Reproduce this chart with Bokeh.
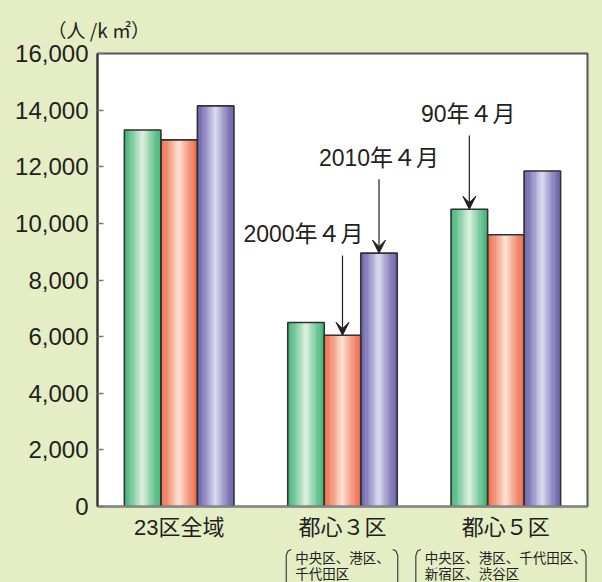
import numpy as np
from bokeh.plotting import figure
from bokeh.layouts import column
from bokeh.models import (Range1d, FixedTicker, NumeralTickFormatter, Label, Arrow, VeeHead)
from bokeh.core.properties import value
from bokeh.embed import file_html
from bokeh.resources import INLINE

# ---------------- data ----------------
categories = ["23区全域", "都心３区", "都心５区"]
notes = ["", "中央区、港区、\n千代田区", "中央区、港区、千代田区、\n新宿区、渋谷区"]
series_names = ["90年４月", "2000年４月", "2010年４月"]
v1990 = [13300, 6500, 10500]
v2000 = [12950, 6050, 9600]
v2010 = [14150, 8950, 11850]
y_ticks = [0, 2000, 4000, 6000, 8000, 10000, 12000, 14000, 16000]
unit_label = "（人 /k ㎡）"
# annotation: which series / which group the arrow points at
ann_series = [0, 1, 2]
ann_group = [2, 1, 1]

series_values = [v1990, v2000, v2010]

# ---------------- styles ----------------
BG = "#e5edc4"
EDGE = ["#42b578", "#ef6e4d", "#6a61a9"]
CENTER = ["#e2f2e2", "#ffe4d6", "#dedcf2"]
TXT = "#231f20"
JP = "Noto Sans CJK JP"
MIXF = "Liberation Sans, Noto Sans CJK JP"

W, H1, H2 = 602, 542, 40
ML, MR, MT, MB = 97, 15, 53, 35
FW, FH = W - ML - MR, H1 - MT - MB
YMAX = 16000
PX = YMAX / FH          # data units per pixel (y)
XPX = 3.0 / FW          # x units per pixel
BW = 36.5 * XPX         # bar width in x units
NSTRIP = 30

p = figure(width=W, height=H1, x_range=Range1d(0, 3), y_range=Range1d(0, YMAX),
           output_backend="svg", toolbar_location=None,
           min_border_left=ML, min_border_right=MR, min_border_top=MT, min_border_bottom=MB,
           background_fill_color="white", border_fill_color=BG)
p.xgrid.visible = False
p.ygrid.visible = False
p.outline_line_color = "#555555"
p.outline_line_width = 2

# unit label as title
p.title.text = unit_label
p.title.text_font = JP
p.title.text_font_style = "normal"
p.title.text_font_size = "19px"
p.title.text_color = TXT
p.title.align = "left"
p.title.offset = -50
p.title.standoff = 22


def hex2rgb(h):
    h = h.lstrip("#")
    return [int(h[i:i + 2], 16) for i in (0, 2, 4)]


def mix(c1, c2, w):
    a, b = hex2rgb(c1), hex2rgb(c2)
    return "#%02x%02x%02x" % tuple(int(round(a[i] + (b[i] - a[i]) * w)) for i in range(3))


# gradient strips
sl, sr, st, sc = [], [], [], []
ol, orr, ot = [], [], []
for k, vals in enumerate(series_values):
    for g, v in enumerate(vals):
        left = g + 0.5 + (k - 1.5) * BW
        ol.append(left); orr.append(left + BW); ot.append(v)
        for j in range(NSTRIP):
            l = left + j * BW / NSTRIP
            t = (j + 0.5) / NSTRIP
            w = max(0.0, 1 - abs(t - 0.5) * 2) ** 1.3
            sl.append(l); sr.append(l + BW / NSTRIP); st.append(v)
            sc.append(mix(EDGE[k], CENTER[k], w))

p.quad(left=sl, right=sr, top=st, bottom=0, fill_color=sc, line_color=sc, line_width=0.6)
p.quad(left=ol, right=orr, top=ot, bottom=0, fill_color=None, line_color="#333333", line_width=1.6)

# axes
p.yaxis.ticker = FixedTicker(ticks=y_ticks)
p.yaxis.formatter = NumeralTickFormatter(format="0,0")
p.yaxis.major_label_text_font = "Liberation Sans"
p.yaxis.major_label_text_font_size = "24px"
p.yaxis.major_label_text_color = TXT
p.yaxis.major_tick_in = 6
p.yaxis.major_tick_out = 0
p.yaxis.major_tick_line_color = "#777777"
p.yaxis.major_tick_line_width = 1.5
p.yaxis.minor_tick_line_color = None
p.yaxis.axis_line_color = "#333333"
p.yaxis.axis_line_width = 2
p.yaxis.major_label_standoff = 9

p.xaxis.ticker = FixedTicker(ticks=[i + 0.5 for i in range(len(categories))])
p.xaxis.major_label_overrides = {i + 0.5: c for i, c in enumerate(categories)}
p.xaxis.major_label_text_font = MIXF
p.xaxis.major_label_text_font_size = "22px"
p.xaxis.major_label_text_color = TXT
p.xaxis.major_tick_in = 0
p.xaxis.major_tick_out = 0
p.xaxis.minor_tick_line_color = None
p.xaxis.axis_line_color = "#888888"
p.xaxis.axis_line_width = 2
p.xaxis.major_label_standoff = 8

# arrows + annotation texts
arrow_len_px = [74, 80, 74]
text_dx = [-1, -39, 0]
for a, (k, g) in enumerate(zip(ann_series, ann_group)):
    x = g + 0.5 + (k - 1) * BW
    tip = series_values[k][g]
    start = tip + arrow_len_px[a] * PX
    p.add_layout(Arrow(end=VeeHead(size=13, fill_color=TXT, line_color=TXT, line_width=1),
                       x_start=x, y_start=start, x_end=x, y_end=tip,
                       line_color=TXT, line_width=1.2))
    p.add_layout(Label(x=x, y=start, x_offset=text_dx[a], y_offset=21, text=series_names[k],
                       text_font=MIXF, text_font_size="23px", text_color=TXT,
                       text_align="center", text_baseline="alphabetic"))

# ---------------- notes strip (shares the x scale of the main plot) ----------------
p2 = figure(width=W, height=H2, x_range=p.x_range, y_range=Range1d(H2, 0),
            output_backend="svg", toolbar_location=None,
            min_border_left=ML, min_border_right=MR, min_border_top=0, min_border_bottom=0,
            x_axis_location=None, y_axis_location=None,
            background_fill_color=BG, border_fill_color=BG)
p2.xgrid.visible = False
p2.ygrid.visible = False
p2.outline_line_color = None

NFS = 13.5
tx, ty, tt = [], [], []
bxs, bys = [], []
for g, note in enumerate(notes):
    if not note:
        continue
    lines = note.split("\n")
    cx = g + 0.5
    maxc = max(len(s) for s in lines)
    left = cx - maxc * NFS / 2 * XPX
    right = cx + maxc * NFS / 2 * XPX
    for li, s in enumerate(lines):
        tx.append(left); ty.append(14 + 16.5 * li); tt.append(s)
    top, bot = 7, 60
    for side in (-1, 1):
        if side < 0:
            x0 = left - 9 * XPX
        else:
            x0 = min(right + 8 * XPX, 3 - 1.5 * XPX)
        d = -side * 5 * XPX
        bxs.append([x0 + d, x0 + d * 0.35, x0, x0, x0 + d * 0.35, x0 + d])
        bys.append([top, top + 1.5, top + 6, bot - 6, bot - 1.5, bot])

p2.text(x=tx, y=ty, text=tt, text_font=value(JP), text_font_size="%gpx" % NFS,
        text_color=TXT, text_align="left", text_baseline="middle")
p2.multi_line(xs=bxs, ys=bys, line_color="#333333", line_width=1.1)

layout = column(p, p2, spacing=0)
html = file_html(layout, INLINE).replace("<body>", '<body style="background-color:%s;">' % BG)
open("out.html", "w").write(html)
